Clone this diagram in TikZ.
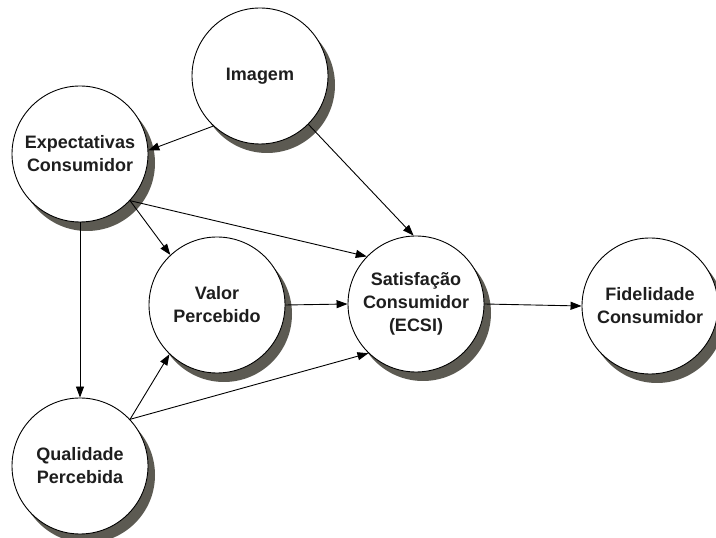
\documentclass[tikz,border=0pt]{standalone}
\usepackage{fontspec}
\setmainfont{Liberation Sans}
\usetikzlibrary{arrows.meta,shadows}
\definecolor{shadowgray}{RGB}{92,90,82}
\definecolor{txt}{RGB}{30,30,30}
\begin{document}
\begin{tikzpicture}[x=1pt,y=1pt,
  construct/.style={circle,draw=black,line width=0.9pt,fill=white,minimum size=136pt,inner sep=0pt,
    align=center,font=\fontsize{18}{23}\selectfont\bfseries,text=txt,
    drop shadow={shadow xshift=7pt,shadow yshift=-9pt,fill=shadowgray,opacity=1}},
  link/.style={line width=0.9pt,-{Triangle[length=11pt,width=8pt]}}]
\useasboundingbox (0,0) rectangle (716,538);
\node[construct] (img) at (260,462) {Imagem};
\node[construct] (exp) at (80,384) {Expectativas\\Consumidor};
\node[construct] (val) at (217,233) {Valor\\Percebido};
\node[construct] (sat) at (416,234) {Satisfação\\Consumidor\\(ECSI)};
\node[construct] (fid) at (650,232) {Fidelidade\\Consumidor};
\node[construct] (qua) at (80,72) {Qualidade\\Percebida};
\draw[link] (img.227) -- (exp.3);
\draw[link] (img.-45) -- (sat.92);
\draw[link] (exp.-43) -- (val.133);
\draw[link] (exp.-43) -- (sat.136);
\draw[link] (exp.south) -- (qua.north);
\draw[link] (qua.43) -- (val.226);
\draw[link] (qua.43) -- (sat.226);
\draw[link] (val.east) -- (sat.west);
\draw[link] (sat.east) -- (fid.west);
\end{tikzpicture}
\end{document}
